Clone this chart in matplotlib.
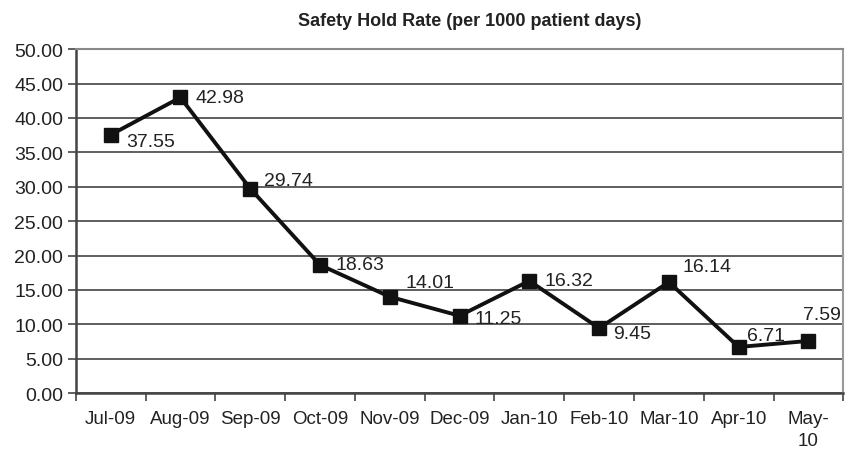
import matplotlib.pyplot as plt
import numpy as np

plt.rcParams['font.family'] = ['Liberation Sans', 'DejaVu Sans']

months = ['Jul-09', 'Aug-09', 'Sep-09', 'Oct-09', 'Nov-09', 'Dec-09',
          'Jan-10', 'Feb-10', 'Mar-10', 'Apr-10', 'May-\n10']
rates = [37.55, 42.98, 29.74, 18.63, 14.01, 11.25, 16.32, 9.45, 16.14, 6.71, 7.59]
labels = ['37.55', '42.98', '29.74', '18.63', '14.01', '11.25',
          '16.32', '9.45', '16.14', '6.71', '7.59']

# label offsets in points (dx, dy), text anchored at left-center
offsets = [(11, -5), (11, 0), (10, 6), (11, 0), (11, 10), (11, -2),
           (11, 0), (10, -4), (10, 11), (6, 8), (-4, 19)]

fig = plt.figure(figsize=(8.51, 4.52), dpi=100)
ax = fig.add_axes([0.089, 0.128, 0.902, 0.761])

x = np.arange(len(months))
ax.plot(x, rates, color='#111111', lw=2.8, marker='s', markersize=10.5,
        markerfacecolor='#111111', markeredgecolor='#111111', zorder=3)

for xi, yi, txt, off in zip(x, rates, labels, offsets):
    ax.annotate(txt, (xi, yi), xytext=off, textcoords='offset points',
                ha='left', va='center', fontsize=14, color='#222222')

ax.set_xlim(-0.5, len(months) - 0.5)
ax.set_ylim(0, 50)
ax.set_yticks(np.arange(0, 50.01, 5))
ax.set_yticklabels(['%.2f' % v for v in np.arange(0, 50.01, 5)], fontsize=14, color='#222222')
ax.set_xticks(x)
ax.set_xticklabels(months, fontsize=13.5, color='#222222', va='top', linespacing=1.4)
ax.set_xticks(np.arange(-0.5, len(months), 1), minor=True)
ax.tick_params(axis='x', which='major', length=0, pad=12)
ax.tick_params(axis='x', which='minor', length=6, width=1.2, color='#444444', direction='out')
ax.tick_params(axis='y', length=6, width=1.2, color='#444444', pad=3)

ax.grid(axis='y', color='#333333', lw=1.1)
ax.set_axisbelow(True)
for side in ['left', 'bottom']:
    ax.spines[side].set_color('#444444')
    ax.spines[side].set_linewidth(1.8)
ax.spines['right'].set_color('#999999')
ax.spines['right'].set_linewidth(1.5)
ax.spines['top'].set_color('#888888')
ax.spines['top'].set_linewidth(1.5)

fig.text(0.552, 0.953, 'Safety Hold Rate (per 1000 patient days)', ha='center', va='center',
         fontsize=13, fontweight='bold', color='#222222')

fig.savefig('out.png', dpi=100)
